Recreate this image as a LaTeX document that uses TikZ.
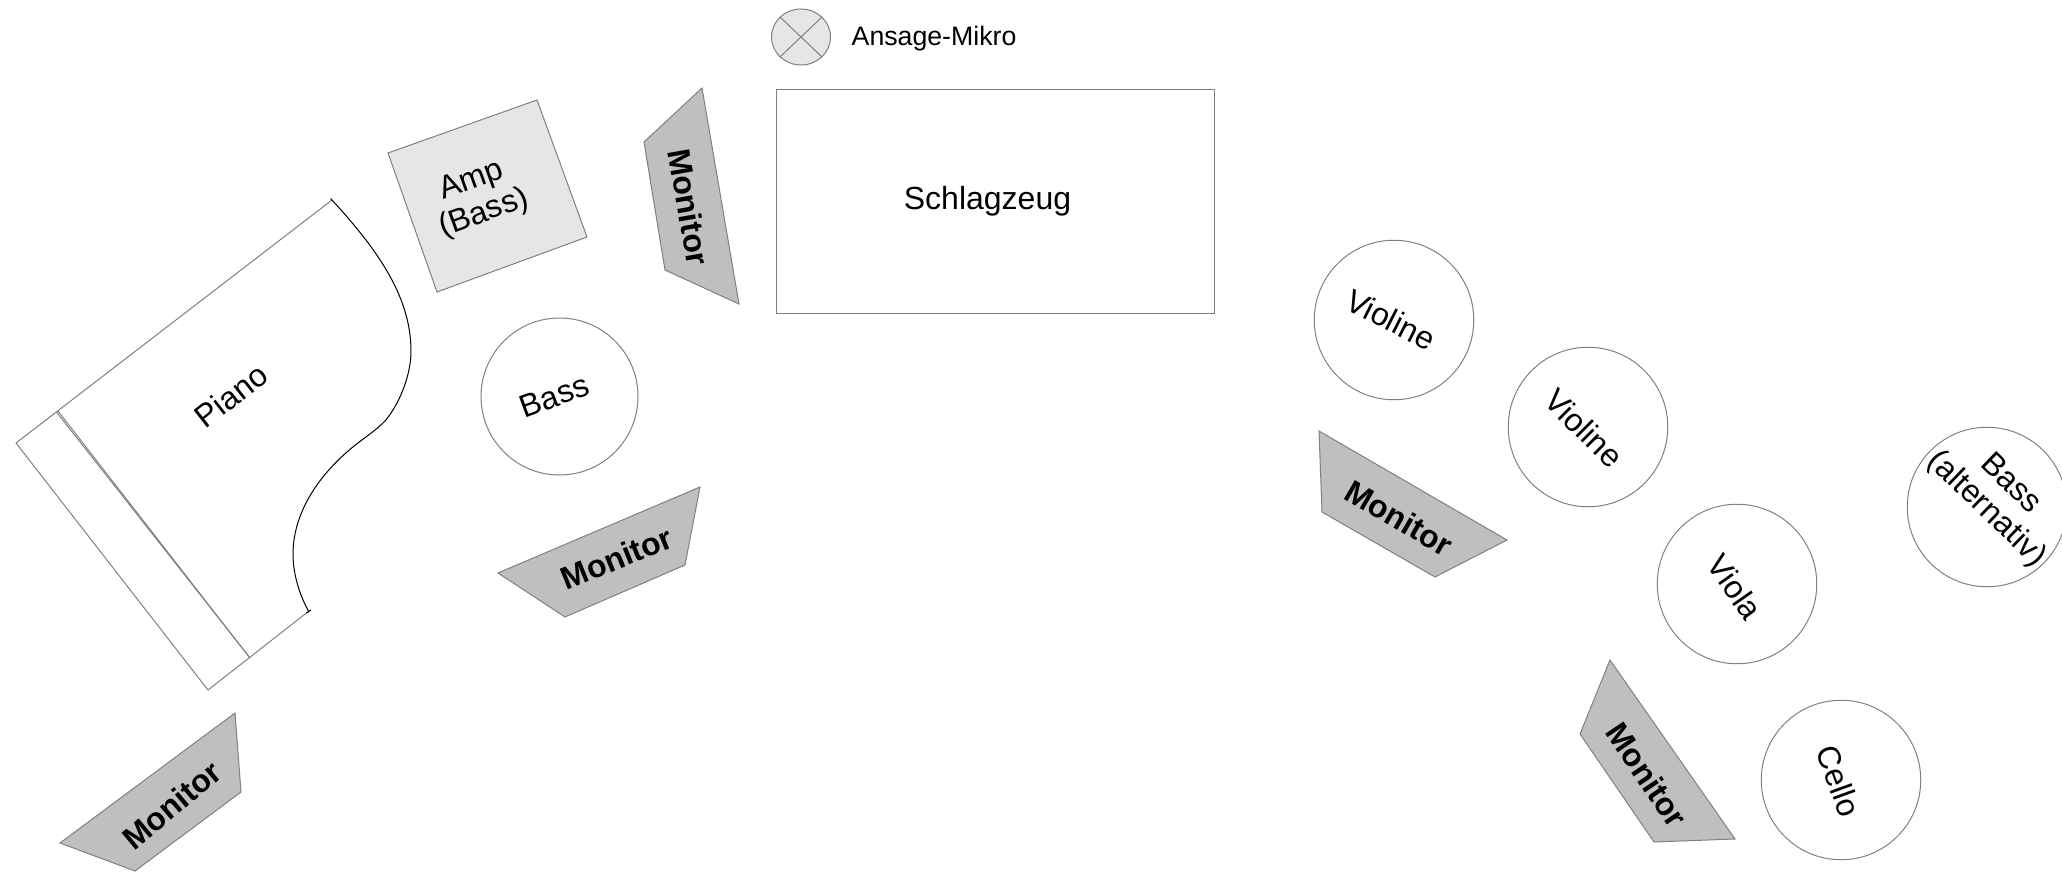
\documentclass[tikz,border=0pt]{standalone}
\usetikzlibrary{shapes.geometric}
\usepackage{fontspec}
\setmainfont{Liberation Sans}
\definecolor{edgegrey}{HTML}{808080}
\definecolor{monfill}{HTML}{BFBFBF}
\definecolor{ampfill}{HTML}{E6E6E6}
\tikzset{
  player/.style={circle,draw=edgegrey,line width=1pt,inner sep=0pt,minimum size=159.5pt},
  wedge/.style={draw=edgegrey,fill=monfill,line width=1pt},
  montext/.style={font=\fontsize{32}{33}\selectfont\bfseries,inner sep=0pt},
  txt/.style={font=\fontsize{32}{35}\selectfont,inner sep=0pt,align=center},
  greyline/.style={draw=edgegrey,line width=1pt}
}
\begin{document}
\begin{tikzpicture}[x=1pt,y=-1pt]
\useasboundingbox (0,0) rectangle (2062,872);
% announcement mic
\node[ellipse,draw=edgegrey,fill=ampfill,line width=1pt,minimum width=59pt,minimum height=56pt,inner sep=0pt] (mic) at (801,37) {};
\draw[greyline] (mic.north west) -- (mic.south east);
\draw[greyline] (mic.north east) -- (mic.south west);
\node[font=\fontsize{26.7}{28}\selectfont,inner sep=0pt,anchor=west] (miclabel) at (851.5,39) {Ansage-Mikro};
% drums
\node[rectangle,draw=edgegrey,line width=1pt,minimum width=438pt,minimum height=223pt,inner sep=0pt] (drums) at (995,201.5) {};
\node[txt] (drumlabel) at (987.5,201.5) {Schlagzeug};
% amp
\draw[greyline,fill=ampfill] (388,153) -- (537,100) -- (587,237) -- (437,292) -- cycle;
\node[txt,rotate=20] (amp) at (478,197.5) {Amp\\(Bass)};
% piano
\coordinate (pa) at (332,200);
\coordinate (pb) at (58,411);
\coordinate (pb2) at (56.5,412);
\coordinate (pc) at (16,443);
\coordinate (pd) at (208,690);
\coordinate (pe) at (250,658);
\coordinate (pf) at (309,611);
\draw[greyline] (pa) -- (pc) -- (pd) -- (pf);
\draw[greyline] (pb) -- (pe);
\draw[greyline] (pb2) -- (pe);
\draw[black,line width=1pt] (pa) .. controls (375,247) and (411,295) .. (411,351)
  .. controls (411,381) and (394,413) .. (382,424)
  .. controls (370,435) and (358,442) .. (347,452)
  .. controls (315,480) and (293,516) .. (293,554)
  .. controls (293,575) and (300,596) .. (309,612);
\draw[black,line width=1pt] (306.5,613) -- (311,610);
\draw[black,line width=1pt] (330.5,198.5) -- (332,200);
\node[txt,rotate=38] (piano) at (231,395.5) {Piano};
% players
\node[player,minimum size=157pt] (bass) at (559.5,396.5) {};
\node[txt,rotate=20] (basslabel) at (554,396) {Bass};
\node[player] (v1) at (1394,320) {};
\node[txt,rotate=-27] (v1label) at (1391,319.5) {Violine};
\node[player] (v2) at (1588,427) {};
\node[txt,rotate=-45] (v2label) at (1584,428) {Violine};
\node[player] (viola) at (1737,584) {};
\node[txt,rotate=-55] (violalabel) at (1735,587) {Viola};
\node[player] (cello) at (1841,780) {};
\node[txt,rotate=-70] (cellolabel) at (1839,781) {Cello};
\node[player] (alt) at (1987,507) {};
\node[txt,rotate=-44] (altlabel) at (1998,497) {Bass\\(alternativ)};
% monitors
\draw[wedge] (702,88) -- (644,142) -- (665,270) -- (739,304) -- cycle;
\node[montext,rotate=-80] (m1) at (689,207) {Monitor};
\draw[wedge] (700,487) -- (498,573) -- (565,617) -- (685,565) -- cycle;
\node[montext,rotate=22] (m2) at (616.5,558) {Monitor};
\draw[wedge] (235,713) -- (60,843) -- (135,871) -- (241,792) -- cycle;
\node[montext,rotate=40] (m3) at (172,805) {Monitor};
\draw[wedge] (1319,431) -- (1322,512) -- (1435,577) -- (1507,540) -- cycle;
\node[montext,rotate=-30] (m4) at (1399,518) {Monitor};
\draw[wedge] (1610,660) -- (1580,734) -- (1654,842) -- (1735,839) -- cycle;
\node[montext,rotate=-56] (m5) at (1647,775) {Monitor};
\end{tikzpicture}
\end{document}
